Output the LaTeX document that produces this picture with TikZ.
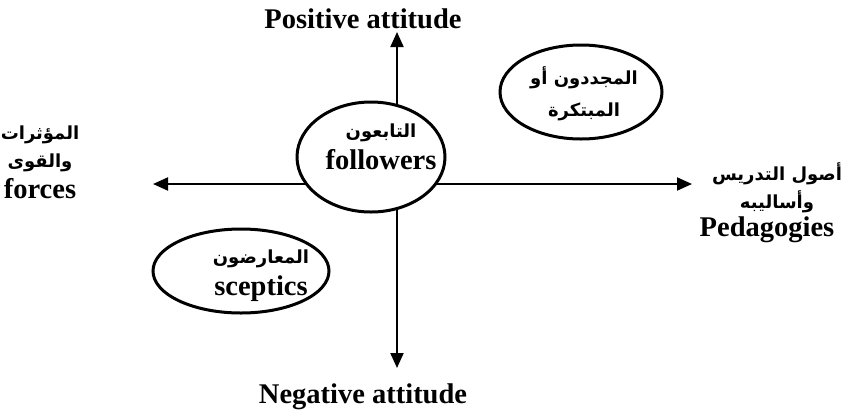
\documentclass[tikz,border=0pt]{standalone}
\usepackage{fontspec}
\setmainfont{Liberation Serif}
\newfontfamily\arabicfont[Script=Arabic]{DejaVu Sans}
\TeXXeTstate=1
\usetikzlibrary{arrows.meta,shapes.geometric}
\newcommand{\artext}[1]{{\arabicfont\bfseries\beginR #1\endR}}
\tikzset{
  axis/.style={line width=2pt,-{Triangle[length=15pt,width=13pt]}},
  group/.style={ellipse,draw,line width=3pt,fill=white,inner sep=0pt},
  en/.style={font=\fontsize{28.5}{30}\selectfont\bfseries,anchor=base,inner sep=0pt},
  arl/.style={font=\fontsize{18}{20}\selectfont,anchor=center,inner sep=0pt}
}
\begin{document}
\begin{tikzpicture}[x=1pt,y=-1pt]
\useasboundingbox (0,0) rectangle (843,413);
\coordinate (o) at (397,184);
\coordinate (top) at (397,32);
\coordinate (bot) at (397,368);
\coordinate (lft) at (153,184);
\coordinate (rgt) at (692,184);
\draw[axis] (o) -- (top);
\draw[axis] (o) -- (bot);
\draw[axis] (o) -- (lft);
\draw[axis] (o) -- (rgt);
\node[group,minimum width=148pt,minimum height=110pt] (fol) at (371,157) {};
\node[group,minimum width=162pt,minimum height=94pt] (inn) at (581,92) {};
\node[group,minimum width=176pt,minimum height=84pt] (sce) at (241,271) {};
\node[arl] (fol1) at (381,133) {\artext{التابعون}};
\node[en] (fol2) at (381,169) {followers};
\node[arl] (inn1) at (584,78) {\artext{المجددون أو}};
\node[arl] (inn2) at (584,112) {\artext{المبتكرة}};
\node[arl] (sce1) at (261,259) {\artext{المعارضون}};
\node[en] (sce2) at (261,295) {sceptics};
\node[en] (pos) at (363,28) {Positive attitude};
\node[en] (neg) at (363,403) {Negative attitude};
\node[arl] (lf1) at (40,135) {\artext{المؤثرات}};
\node[arl] (lf2) at (40,163) {\artext{والقوى}};
\node[en] (lf3) at (40,198) {forces};
\node[arl] (rt1) at (777,174) {\artext{أصول التدريس}};
\node[arl] (rt2) at (777,202) {\artext{وأساليبه}};
\node[en] (rt3) at (767,236) {Pedagogies};
\end{tikzpicture}
\end{document}
